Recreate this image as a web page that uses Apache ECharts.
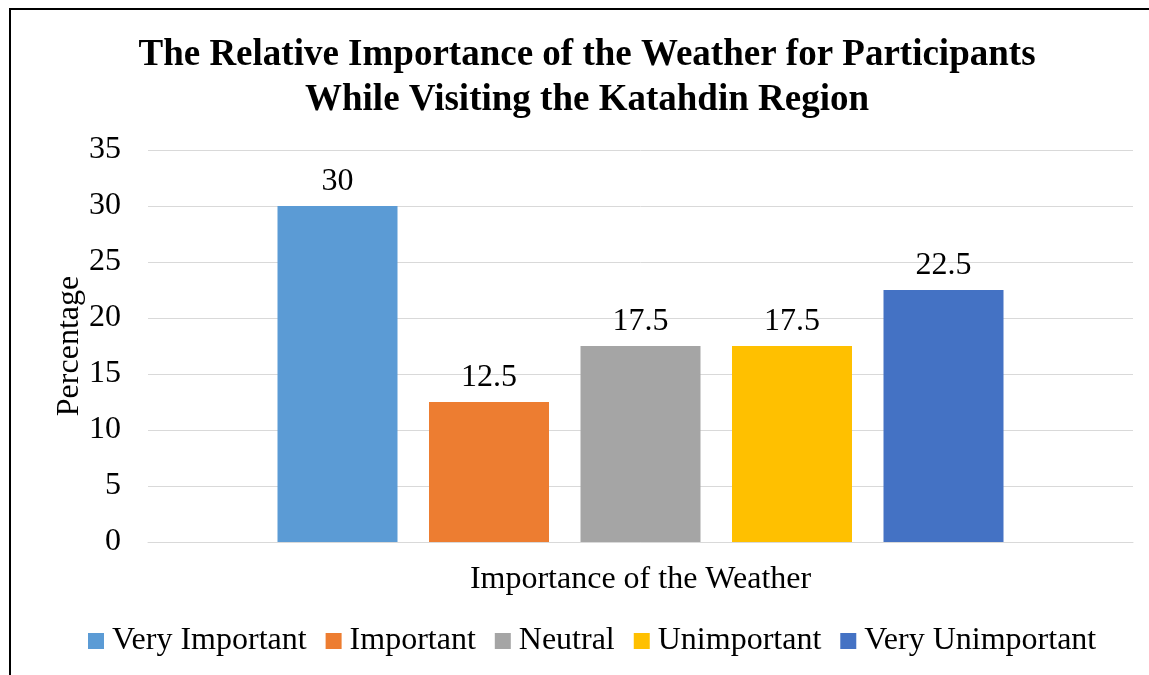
<!DOCTYPE html>
<html><head><meta charset="utf-8">
<script src="https://cdn.jsdelivr.net/npm/echarts@6/dist/echarts.min.js"></script>
<style>html,body{margin:0;padding:0;background:#fff}#c{width:1149px;height:675px}</style>
</head><body><div id="c"></div>
<script>
var seriesNames = ['Very Important', 'Important', 'Neutral', 'Unimportant', 'Very Unimportant'];
var seriesValues = [30, 12.5, 17.5, 17.5, 22.5];
var seriesColors = ['#5B9BD5', '#ED7D31', '#A5A5A5', '#FFC000', '#4472C4'];
var categories = [''];
var yTicks = {min: 0, max: 35, interval: 5};
var FONT = '"Liberation Serif", "Times New Roman", serif';

var chart = echarts.init(document.getElementById('c'), null, {renderer: 'canvas'});
var series = seriesNames.map(function (n, i) {
  return {
    name: n, type: 'bar', data: [seriesValues[i]],
    barWidth: 120, barGap: '26.25%',
    itemStyle: {color: seriesColors[i]},
    label: {show: true, position: 'top', distance: 8, color: '#000', fontFamily: FONT, fontSize: 32},
    emphasis: {disabled: true}
  };
});
chart.setOption({
  animation: false,
  graphic: [{type: 'rect', shape: {x: 10, y: 9, width: 1200, height: 700}, style: {fill: 'none', stroke: '#000', lineWidth: 2}, silent: true}],
  title: {
    text: 'The Relative Importance of the Weather for Participants\nWhile Visiting the Katahdin Region',
    left: 587, top: 33, textAlign: 'center', padding: 0,
    textStyle: {fontFamily: FONT, fontWeight: 'bold', fontSize: 37, lineHeight: 45, color: '#000'}
  },
  legend: {
    data: seriesNames, top: 625, left: 88, padding: 0, itemWidth: 16, itemHeight: 16, itemGap: 19,
    icon: 'rect',
    textStyle: {fontFamily: FONT, fontSize: 32, color: '#000', padding: [0, 0, 0, 3]}
  },
  grid: {left: 148, right: 16, top: 150, bottom: 133, containLabel: false},
  xAxis: {
    type: 'category', data: categories,
    name: 'Importance of the Weather', nameLocation: 'middle', nameGap: 22,
    nameTextStyle: {fontFamily: FONT, fontSize: 32, color: '#000'},
    axisLine: {show: true, lineStyle: {color: '#D9D9D9', width: 1}},
    axisTick: {show: false}, axisLabel: {show: false}
  },
  yAxis: {
    type: 'value', min: yTicks.min, max: yTicks.max, interval: yTicks.interval,
    name: 'Percentage', nameLocation: 'middle', nameGap: 62, nameRotate: 90, nameMoveOverlap: false,
    nameTextStyle: {fontFamily: FONT, fontSize: 32, color: '#000'},
    axisLabel: {fontFamily: FONT, fontSize: 32, color: '#000', margin: 27},
    splitLine: {lineStyle: {color: '#D9D9D9', width: 1}},
    axisLine: {show: false}, axisTick: {show: false}
  },
  series: series
});
</script></body></html>
